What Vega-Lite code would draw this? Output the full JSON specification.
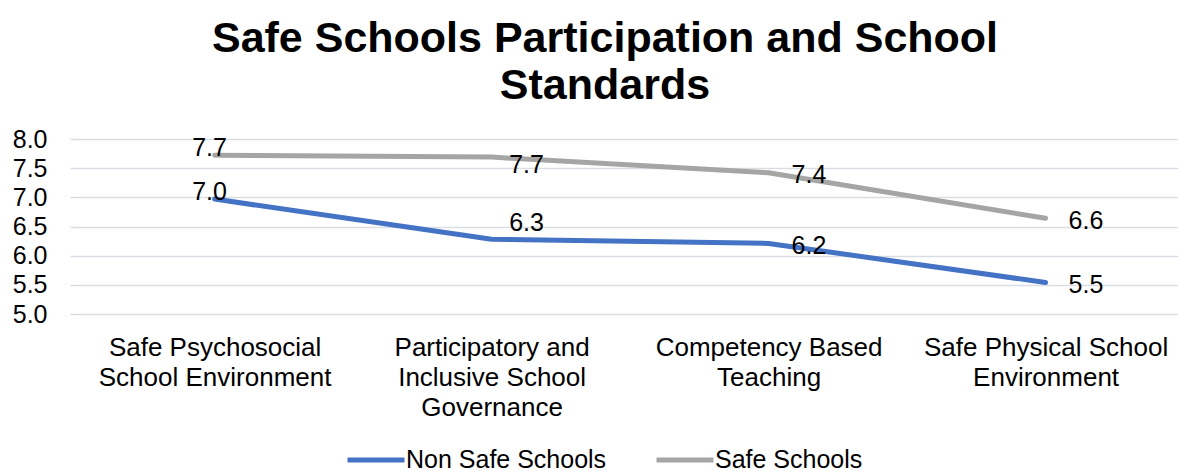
{
  "$schema": "https://vega.github.io/schema/vega-lite/v6.json",
  "autosize": {"type": "none"},
  "width": 1108,
  "height": 175,
  "padding": {"left": 70, "top": 139, "right": 0, "bottom": 157},
  "background": "white",
  "config": {
    "font": "Liberation Sans",
    "view": {"stroke": null}
  },
  "title": {
    "text": ["Safe Schools Participation and School", "Standards"],
    "fontSize": 43,
    "fontWeight": "bold",
    "font": "Liberation Sans",
    "color": "#000000",
    "anchor": "middle",
    "frame": "group",
    "lineHeight": 47,
    "baseline": "alphabetic",
    "offset": 42,
    "dx": -19,
    "dy": 57
  },
  "data": {
    "values": [
      {"standard": "Safe Psychosocial School Environment", "group": "Non Safe Schools", "score": 6.97},
      {"standard": "Participatory and Inclusive School Governance", "group": "Non Safe Schools", "score": 6.28},
      {"standard": "Competency Based Teaching", "group": "Non Safe Schools", "score": 6.21},
      {"standard": "Safe Physical School Environment", "group": "Non Safe Schools", "score": 5.54},
      {"standard": "Safe Psychosocial School Environment", "group": "Safe Schools", "score": 7.72},
      {"standard": "Participatory and Inclusive School Governance", "group": "Safe Schools", "score": 7.69},
      {"standard": "Competency Based Teaching", "group": "Safe Schools", "score": 7.42},
      {"standard": "Safe Physical School Environment", "group": "Safe Schools", "score": 6.64}
    ]
  },
  "encoding": {
    "x": {
      "field": "standard",
      "type": "nominal",
      "sort": null,
      "scale": {"type": "point", "paddingOuter": 0.479, "align": 0.522},
      "axis": {
        "title": null,
        "domain": false,
        "ticks": false,
        "grid": false,
        "labelAngle": 0,
        "labelFontSize": 26,
        "labelColor": "#000000",
        "labelBaseline": "top",
        "labelLineHeight": 30,
        "labelPadding": 20,
        "labelLimit": 0,
        "labelExpr": "datum.value == 'Safe Psychosocial School Environment' ? ['Safe Psychosocial', 'School Environment'] : datum.value == 'Participatory and Inclusive School Governance' ? ['Participatory and', 'Inclusive School', 'Governance'] : datum.value == 'Competency Based Teaching' ? ['Competency Based', 'Teaching'] : ['Safe Physical School', 'Environment']"
      }
    },
    "y": {
      "field": "score",
      "type": "quantitative",
      "scale": {"domain": [5, 8], "nice": false, "zero": false},
      "axis": {
        "title": null,
        "values": [5, 5.5, 6, 6.5, 7, 7.5, 8],
        "format": ".1f",
        "domain": false,
        "ticks": false,
        "labelFontSize": 25,
        "labelColor": "#000000",
        "labelPadding": 23,
        "gridColor": "#dadee4",
        "gridWidth": 1.5
      }
    },
    "color": {
      "field": "group",
      "type": "nominal",
      "scale": {"domain": ["Non Safe Schools", "Safe Schools"], "range": ["#4472C4", "#A5A5A5"]},
      "legend": {
        "title": null,
        "orient": "none",
        "direction": "horizontal",
        "legendX": 275,
        "legendY": 290,
        "padding": 0,
        "symbolType": "stroke",
        "symbolSize": 3249,
        "symbolStrokeWidth": 5,
        "labelFontSize": 25,
        "labelColor": "#000000",
        "labelOffset": -1,
        "labelLimit": 0,
        "columnPadding": 39
      }
    }
  },
  "layer": [
    {
      "mark": {"type": "line", "strokeWidth": 5, "strokeCap": "round", "strokeJoin": "round"}
    },
    {
      "transform": [{"filter": {"field": "standard", "equal": "Safe Psychosocial School Environment"}}],
      "mark": {"type": "text", "fontSize": 25, "align": "center", "baseline": "alphabetic", "dx": -5, "dy": 1},
      "encoding": {"text": {"field": "score", "type": "quantitative", "format": ".1f"}, "color": {"value": "#000000"}}
    },
    {
      "transform": [{"filter": "datum.standard == 'Participatory and Inclusive School Governance' && datum.group == 'Safe Schools'"}],
      "mark": {"type": "text", "fontSize": 25, "align": "center", "baseline": "alphabetic", "dx": 35, "dy": 16},
      "encoding": {"text": {"field": "score", "type": "quantitative", "format": ".1f"}, "color": {"value": "#000000"}}
    },
    {
      "transform": [{"filter": "datum.standard == 'Participatory and Inclusive School Governance' && datum.group == 'Non Safe Schools'"}],
      "mark": {"type": "text", "fontSize": 25, "align": "center", "baseline": "alphabetic", "dx": 35, "dy": -8},
      "encoding": {"text": {"field": "score", "type": "quantitative", "format": ".1f"}, "color": {"value": "#000000"}}
    },
    {
      "transform": [{"filter": {"field": "standard", "oneOf": ["Competency Based Teaching", "Safe Physical School Environment"]}}],
      "mark": {"type": "text", "fontSize": 25, "align": "left", "baseline": "alphabetic", "dx": 23, "dy": 10.5},
      "encoding": {"text": {"field": "score", "type": "quantitative", "format": ".1f"}, "color": {"value": "#000000"}}
    }
  ]
}
